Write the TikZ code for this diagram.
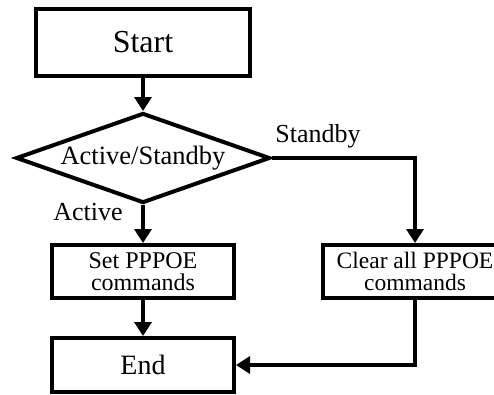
\documentclass[tikz,border=0pt]{standalone}
\usepackage{fontspec}
\setmainfont{Liberation Serif}
\usetikzlibrary{shapes.geometric,arrows.meta}
\begin{document}
\begin{tikzpicture}[x=1pt,y=-1pt,
  box/.style={draw,line width=4pt,inner sep=0pt,align=center},
  flow/.style={line width=4pt,-{Triangle[width=17pt,length=14pt]}},
  lbl/.style={font=\fontsize{26}{26}\selectfont,inner sep=0pt}]
\useasboundingbox (0,0) rectangle (494,394);

% process boxes and the decision
\node[box,minimum width=214pt,minimum height=67pt,font=\fontsize{32}{32}\selectfont] (start) at (143,42.5) {Start};
\node[box,shape=diamond,aspect=2.82,minimum width=254pt,minimum height=90pt,font=\fontsize{26.5}{26.5}\selectfont] (dec) at (143,158) {Active/Standby};
\node[box,minimum width=182pt,minimum height=53pt,font=\fontsize{24}{22}\selectfont] (set) at (143,271.5) {Set PPPOE\\commands};
\node[box,minimum width=184pt,minimum height=53pt,font=\fontsize{23.5}{22}\selectfont] (clear) at (415,271.5) {Clear all PPPOE\\commands};
\node[box,minimum width=182pt,minimum height=54pt,font=\fontsize{28}{28}\selectfont] (end) at (143,365) {End};

% branch labels
\node[lbl] (lstandby) at (318,136) {Standby};
\node[lbl] (lactive) at (88,212) {Active};

% connectors
\draw[flow] (start.south) -- (dec.north);
\draw[flow] (dec.south) -- (set.north);
\draw[flow] (dec.east) -| (clear.north);
\draw[flow] (set.south) -- (end.north);
\draw[flow] (clear.south) |- (end.east);
\end{tikzpicture}
\end{document}
